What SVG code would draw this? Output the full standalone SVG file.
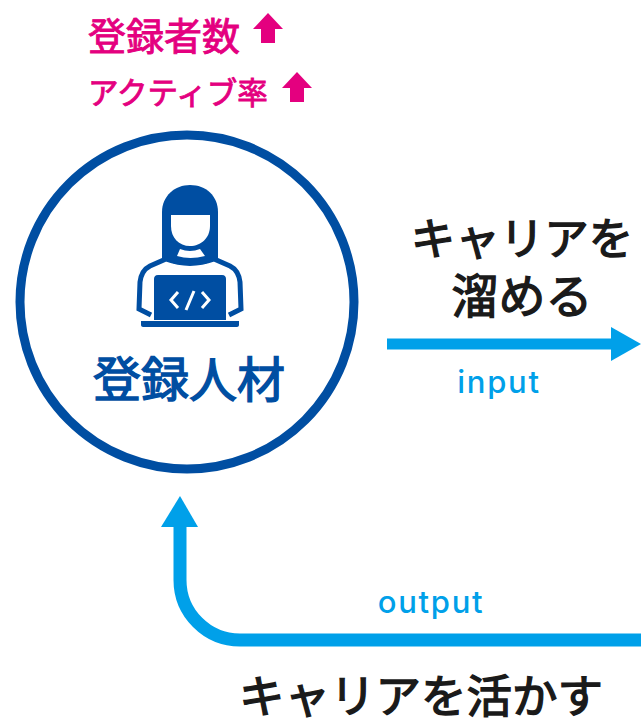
<svg xmlns="http://www.w3.org/2000/svg" width="641" height="721" viewBox="0 0 641 721">
<style>
text{font-family:"Noto Sans CJK JP","Noto Sans",sans-serif;font-weight:400}
.k{fill:#1a1a1a;stroke:#1a1a1a;stroke-width:1.4;text-anchor:middle}
.m{fill:#e4007f}
.t{stroke:#e4007f;stroke-width:.9}
.b{fill:#00a0e9}
.l{font-family:Inter,"Noto Sans",sans-serif;font-size:31px;font-weight:500;fill:#00a0e9;text-anchor:middle;letter-spacing:1.7px}
.ic{fill:#004ea2}
</style>
<rect width="641" height="721" fill="#fff"/>
<g id="metrics">
<text class="m t" x="88" y="50" font-size="38">登録者数</text>
<text class="m t" x="88" y="104" font-size="30.5">アクティブ率</text>
<path class="m" d="M268 13L283 29H275V43H261V29H253Z"/>
<path class="m" d="M297 72L312 88H304V102H290V88H282Z"/>
</g>
<g id="node-person">
<circle cx="187" cy="302" r="167" fill="#fff" stroke="#004ea2" stroke-width="9"/>
<path class="ic" d="M162 258V212C162 196 175 185 190 185C206 185 218 196 218 212V258L205 264H175Z"/>
<path fill="#fff" d="M171 215H210V226C210 238 201 246 190 246C179 246 171 238 171 226Z"/>
<path fill="#fff" d="M180 249Q190 253 200 249L205 256Q190 260 177 256Z"/>
<path d="M151 315L139 309L140 282C141 274 144 269 150 266L166 259Q190 268 214 259L230 266C236 269 239 274 240 282L241 309L229 315" fill="none" stroke="#004ea2" stroke-width="5"/>
<path class="ic" d="M158 275H222C225 275 226 277 226 279V320H154V279C154 277 155 275 158 275Z"/>
<path class="ic" d="M141 321H239V325C239 326 238 327 237 327H143C142 327 141 326 141 325Z"/>
<path d="M178 292L171 300L178 308M202 292L209 300L202 308M194 291L186 310" fill="none" stroke="#fff" stroke-width="3"/>
<text x="189" y="397" font-size="48" fill="#004ea2" stroke="#004ea2" stroke-width="1.4" text-anchor="middle">登録人材</text>
</g>
<g id="connectors">
<path d="M387 344H616" fill="none" stroke="#00a0e9" stroke-width="11"/>
<path class="b" d="M611 327L641 344L611 361Z"/>
<path d="M641 640H240A60 60 0 0 1 180 580V526" fill="none" stroke="#00a0e9" stroke-width="13"/>
<path class="b" d="M180 496L198 527H161Z"/>
</g>
<g id="labels">
<text class="k" x="522" y="255" font-size="44.5">キャリアを</text>
<text class="k" x="522" y="313" font-size="47">溜める</text>
<text class="l" x="499" y="393">input</text>
<text class="l" x="431" y="613">output</text>
<text class="k" x="421" y="713" font-size="45.5">キャリアを活かす</text>
</g>
</svg>
